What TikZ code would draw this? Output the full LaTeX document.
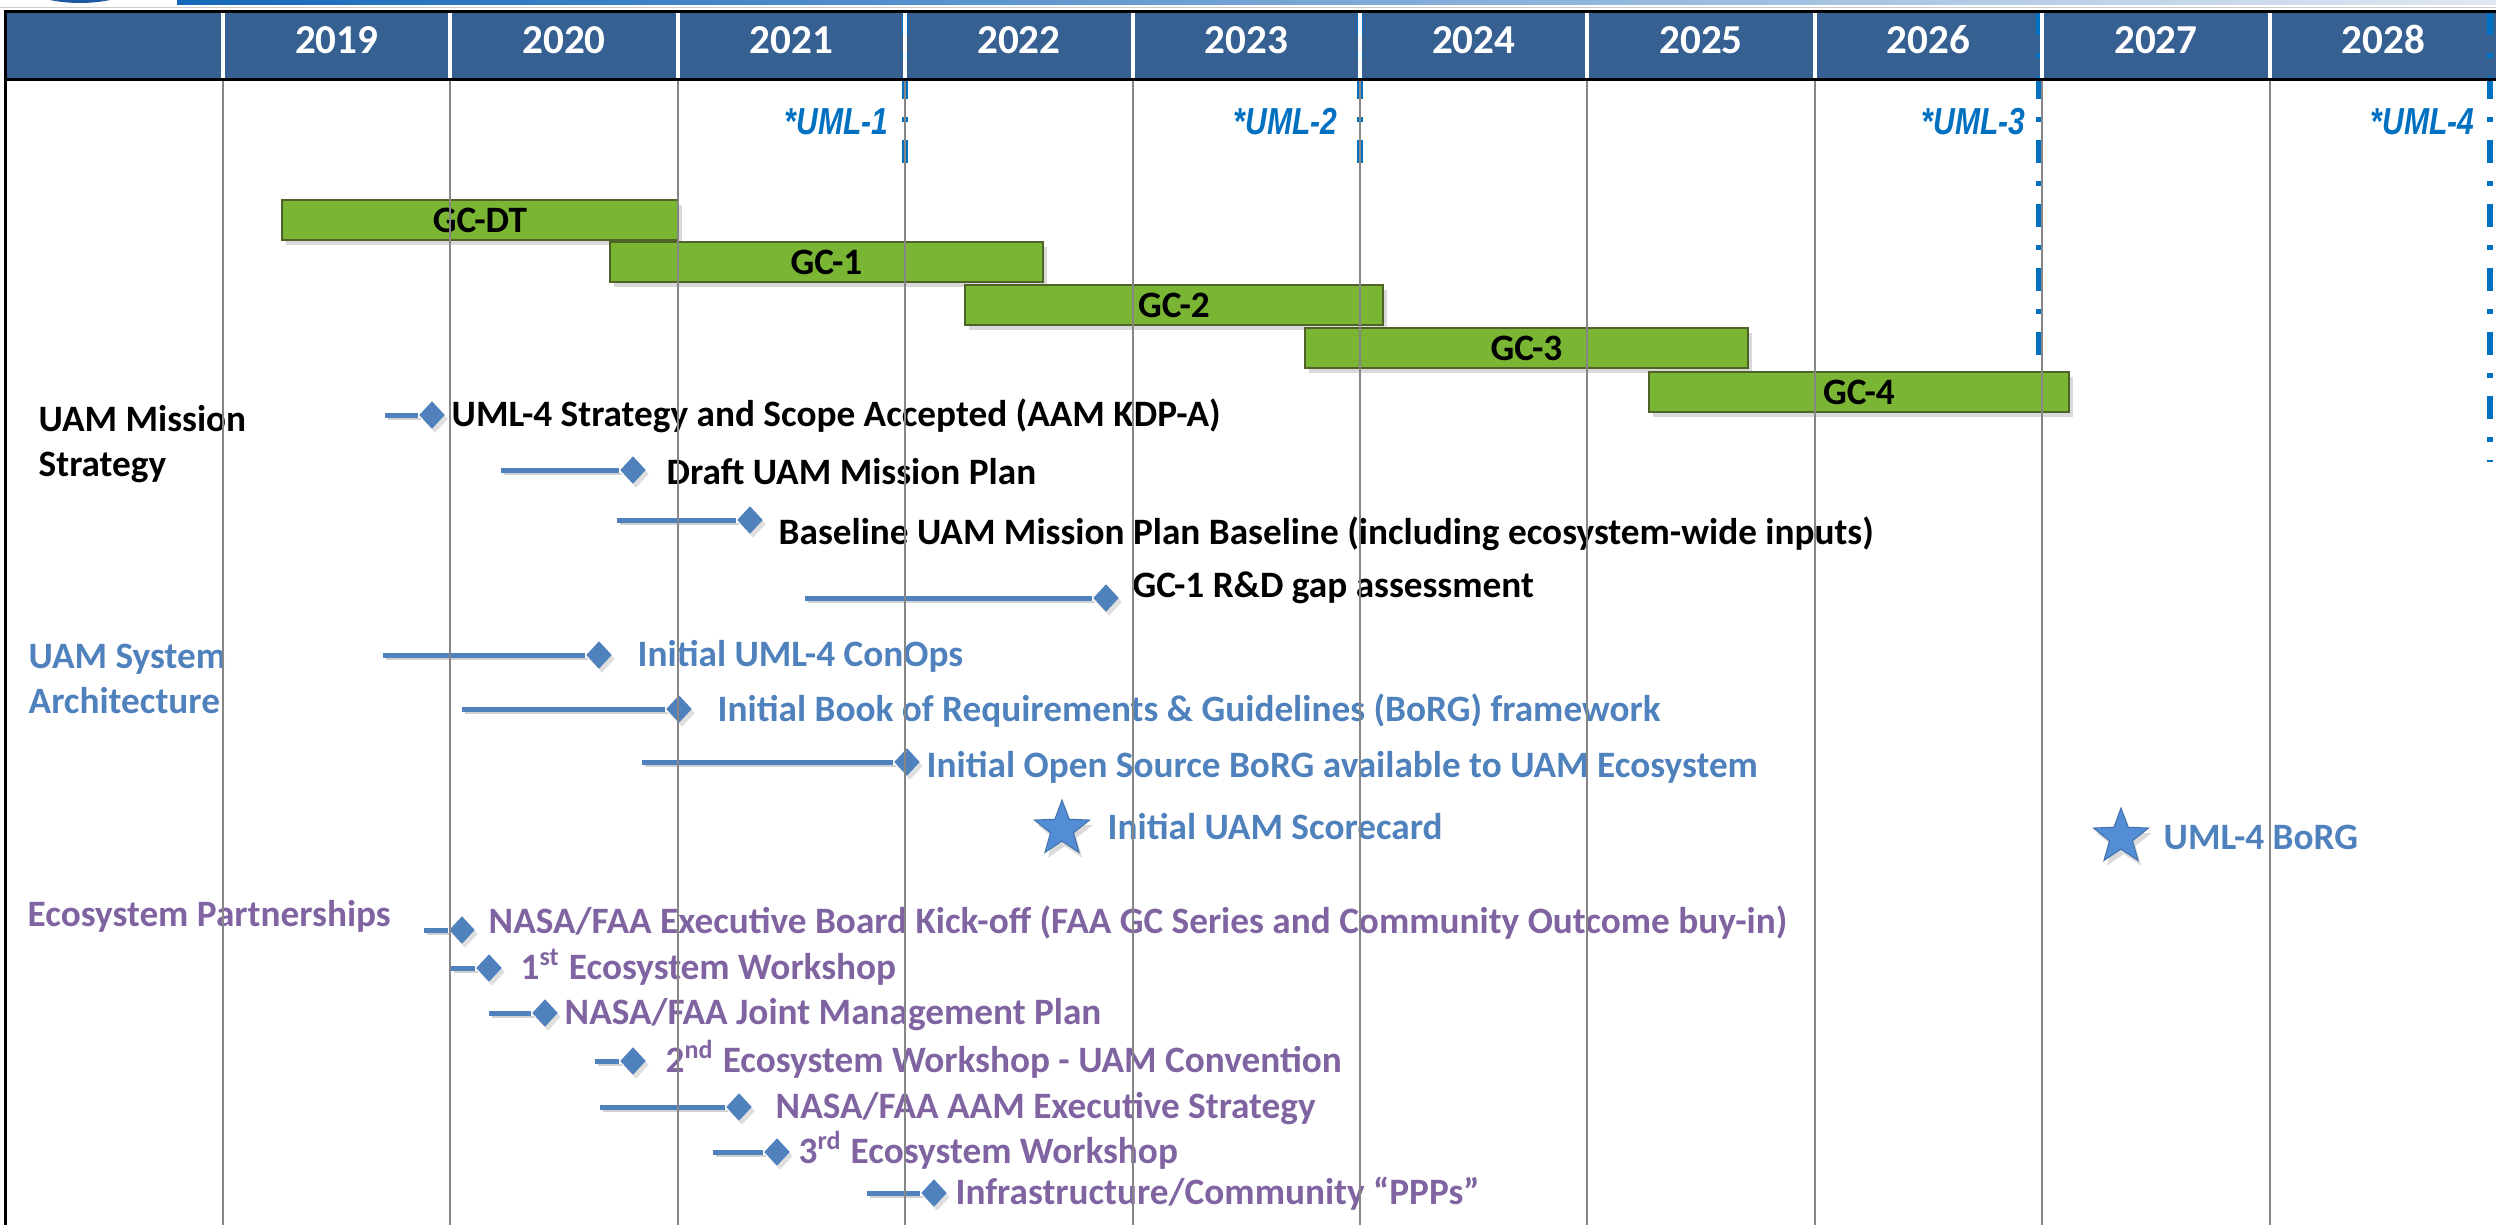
\documentclass[tikz,border=0pt]{standalone}
\usepackage{fontspec}
\setmainfont{Carlito}
\newfontfamily\umlfont[FakeStretch=0.8]{Liberation Sans}
\usetikzlibrary{shapes.geometric,shadows}

\definecolor{hdrblue}{RGB}{54,96,146}
\definecolor{gcgreen}{RGB}{122,181,52}
\definecolor{gcborder}{RGB}{79,98,40}
\definecolor{msblue}{RGB}{79,129,189}
\definecolor{starblue}{RGB}{83,141,213}
\definecolor{ecopurple}{RGB}{128,100,162}
\definecolor{umlblue}{RGB}{0,112,192}
\definecolor{gridgrey}{RGB}{134,134,134}
\definecolor{stripeblue}{RGB}{21,104,186}
\definecolor{stripelight}{RGB}{225,232,242}

\def\lblfont{\fontsize{10.6}{12.8}\selectfont\bfseries}

\begin{document}
\begin{tikzpicture}[x=0.1mm,y=-0.1mm]
	\tikzstyle{gcbar}=[draw=gcborder,line width=0.15mm,fill=gcgreen,minimum height=4mm,inner sep=0pt,font=\lblfont,drop shadow={shadow xshift=0.4mm,shadow yshift=-0.5mm,opacity=0.3}]
	\tikzstyle{msdiamond}=[diamond,fill=msblue,minimum width=2.6mm,minimum height=2.8mm,inner sep=0pt,drop shadow={shadow xshift=0.3mm,shadow yshift=-0.4mm,opacity=0.25}]
	\tikzstyle{msline}=[msblue,line width=0.5mm,preaction={draw=black!18,transform canvas={shift={(0.3mm,-0.4mm)}}}]
	\tikzstyle{mstext}=[anchor=west,inner sep=0pt,text height=6.8pt,text depth=0pt,font=\lblfont]
	\tikzstyle{section}=[anchor=north west,inner sep=0pt,align=left,font=\lblfont]
	\tikzstyle{msstar}=[star,star points=5,star point ratio=2.4,fill=starblue,draw=starblue!80!black,line width=0.1mm,minimum size=5.8mm,inner sep=0pt,drop shadow={shadow xshift=0.3mm,shadow yshift=-0.5mm,opacity=0.3}]
	\tikzstyle{umlline}=[umlblue,line width=0.6mm,dash pattern=on 2.3mm off 1.8mm on 0.5mm off 1.8mm]
	\tikzstyle{umltext}=[anchor=east,inner sep=0pt,text height=7.6pt,text depth=0pt,text=umlblue,font=\fontsize{10.7}{13}\umlfont\bfseries\itshape]
	\tikzstyle{year}=[inner sep=0pt,text height=7.4pt,text depth=0pt,text=white,font=\fontsize{11.7}{14}\selectfont\bfseries]
	\tikzstyle{gridline}=[gridgrey,line width=0.2mm]
	\clip (0,0) rectangle (2496,1225);

	% title strip and logo edge
	\fill[color={rgb,255:red,30;green,90;blue,160}] (80,-148.5) circle (151.5);
	\shade[left color=stripeblue,right color=stripelight] (177,0) rectangle (2496,4);
	\draw[black!20,line width=0.1mm] (0,7) -- (2496,7);

	% header
	\fill[hdrblue] (5,11) rectangle (2496,80);
	\foreach \yr [count=\k] in {2019,...,2028}
		\node[year](y\yr) at ({223+227.4*(\k-0.5)},40){\yr};

	% UML levels
	\foreach \i/\x/\yb/\xl in {1/905/178/889,2/1360/178/1338,3/2039/372/2026,4/2490/462/2475}{
		\coordinate(uml\i top) at (\x,12);
		\coordinate(uml\i bot) at (\x,\yb);
		\draw[umlline](uml\i top) -- (uml\i bot);
		\node[umltext](uml\i) at (\xl,121){*UML-\i};
	}

	% grand challenges
	\foreach \nm/\lbl/\xa/\xb/\yc in {gcdt/GC-DT/282/678/220,gcone/GC-1/610/1043/262,gctwo/GC-2/965/1383/305,gcthree/GC-3/1305/1748/348,gcfour/GC-4/1649/2069/392}{
		\pgfmathsetmacro\barw{(\xb-\xa)*0.1}
		\node[gcbar,minimum width=\barw mm](\nm) at ({(\xa+\xb)/2},\yc){\lbl};
	}

	% UAM mission strategy
	\node[section](strat) at (38,405){UAM Mission\\Strategy};
	\foreach \i/\xs/\xd/\y/\xt/\yt/\txt in {
		1/385/432/415/451/415/{UML-4 Strategy and Scope Accepted (AAM KDP-A)},
		2/501/633/470/666/473/{Draft UAM Mission Plan},
		3/617/750/520/778/533/{Baseline UAM Mission Plan Baseline (including ecosystem-wide inputs)},
		4/805/1106/598/1132/586/{GC-1 R\&D gap assessment}}{
		\coordinate(ms\i s) at (\xs,\y);
		\node[msdiamond](ms\i) at (\xd,\y){};
		\draw[msline](ms\i s) -- (ms\i);
		\node[mstext](ms\i t) at (\xt,\yt){\txt};
	}

	% UAM system architecture
	\node[section,text=msblue](arch) at (28,643){UAM System\\Architecture};
	\foreach \i/\xs/\xd/\y/\xt/\yt/\txt in {
		1/383/599/655/637/655/{Initial UML-4 ConOps},
		2/462/679/709/717/710/{Initial Book of Requirements \& Guidelines (BoRG) framework},
		3/642/907/762/926/766/{Initial Open Source BoRG available to UAM Ecosystem}}{
		\coordinate(arch\i s) at (\xs,\y);
		\node[msdiamond](arch\i) at (\xd,\y){};
		\draw[msline](arch\i s) -- (arch\i);
		\node[mstext,text=msblue](arch\i t) at (\xt,\yt){\txt};
	}
	\node[msstar](star1) at (1062,829){};
	\node[mstext,text=msblue](star1t) at (1107,828){Initial UAM Scorecard};
	\node[msstar](star2) at (2121,837){};
	\node[mstext,text=msblue](star2t) at (2163,838){UML-4 BoRG};

	% ecosystem partnerships
	\node[mstext,text=ecopurple](eco) at (27,915){Ecosystem Partnerships};
	\foreach \i/\xs/\xd/\y/\xt/\yt/\txt in {
		1/424/462/930/488/922/{NASA/FAA Executive Board Kick-off (FAA GC Series and Community Outcome buy-in)},
		2/451/489/968/520/968/{1\textsuperscript{st} Ecosystem Workshop},
		3/489/545/1013/564/1013/{NASA/FAA Joint Management Plan},
		4/595/633/1061/665/1061/{2\textsuperscript{nd} Ecosystem Workshop - UAM Convention},
		5/600/739/1107/775/1107/{NASA/FAA AAM Executive Strategy},
		6/713/777/1152/798/1152/{3\textsuperscript{rd} Ecosystem Workshop},
		7/867/934/1193/955/1193/{Infrastructure/Community “PPPs”}}{
		\coordinate(eco\i s) at (\xs,\y);
		\node[msdiamond](eco\i) at (\xd,\y){};
		\draw[msline](eco\i s) -- (eco\i);
		\node[mstext,text=ecopurple](eco\i t) at (\xt,\yt){\txt};
	}

	% table grid
	\foreach \k in {0,...,9}{
		\draw[gridline] ({223+227.4*\k},81) -- ({223+227.4*\k},1225);
		\draw[white,line width=0.4mm] ({223+227.4*\k},13) -- ({223+227.4*\k},78);
	}
	\draw[black,line width=0.3mm] (4,11.5) -- (2496,11.5);
	\draw[black,line width=0.3mm] (4,79.5) -- (2496,79.5);
	\draw[black,line width=0.35mm] (5.5,10) -- (5.5,1225);
\end{tikzpicture}
\end{document}
